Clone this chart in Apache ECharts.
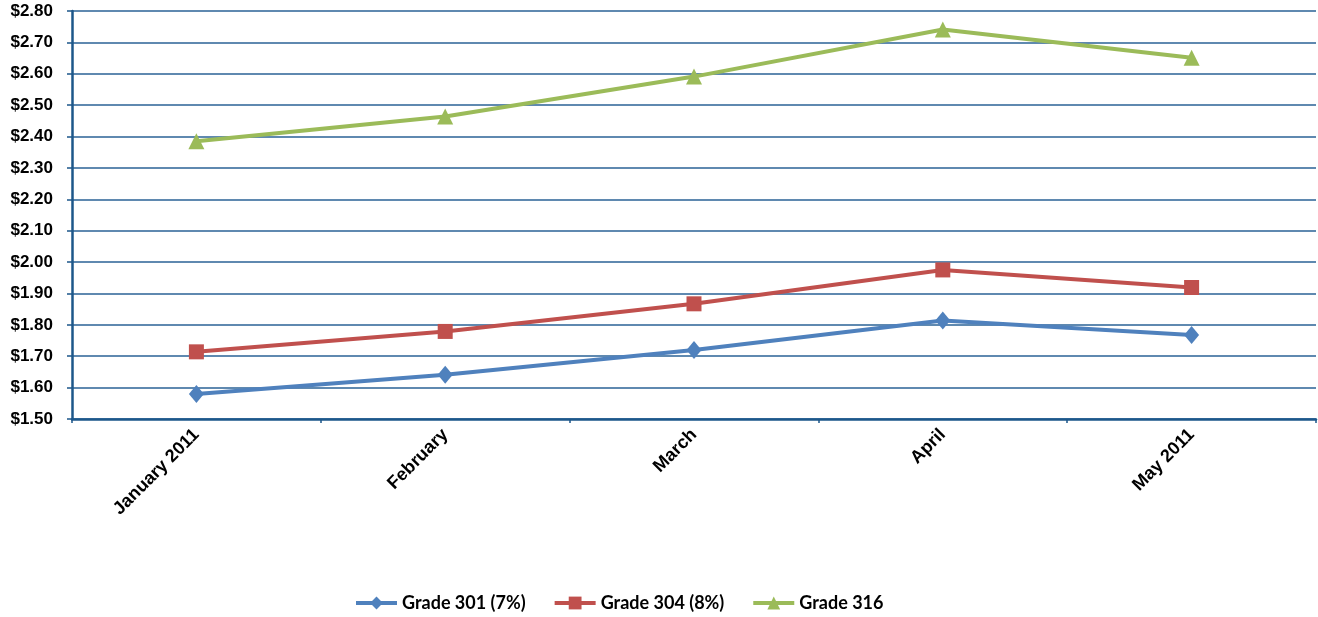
<!DOCTYPE html>
<html><head><meta charset="utf-8">
<script src="https://cdn.jsdelivr.net/npm/echarts@6/dist/echarts.min.js"></script>
<style>html,body{margin:0;padding:0;background:#fff}#c{width:1318px;height:617px}</style>
</head><body><div id="c"></div>
<script>
const categories = ['January 2011','February','March','April','May 2011'];
const grade301 = [1.58, 1.641, 1.72, 1.814, 1.768];
const grade304 = [1.714, 1.779, 1.867, 1.975, 1.919];
const grade316 = [2.385, 2.464, 2.591, 2.741, 2.651];
const seriesNames = ['Grade 301 (7%)','Grade 304 (8%)','Grade 316'];

const chart = echarts.init(document.getElementById('c'));
function mk(name, data, color, symbol, size){
  return {name, type:'line', data, symbol, symbolSize:size, showSymbol:true,
    lineStyle:{color, width:4}, itemStyle:{color}, emphasis:{disabled:true}, animation:false};
}
chart.setOption({
  animation:false,
  grid:{left:72, right:2, top:11, bottom:198, containLabel:false},
  legend:{top:594, left:354, padding:0, itemWidth:41, itemHeight:16, itemGap:27,
    lineStyle:{width:4},
    textStyle:{fontFamily:'Lato', fontWeight:'bold', fontSize:18, color:'#000'},
    data:seriesNames},
  xAxis:{type:'category', data:categories, boundaryGap:true,
    axisLine:{lineStyle:{color:'#1d578a', width:2.5}},
    axisTick:{show:true, length:4, lineStyle:{color:'#1d578a', width:1.5}},
    axisLabel:{rotate:45, margin:13, fontFamily:'Liberation Sans', fontWeight:'bold', fontSize:18, color:'#000'}},
  yAxis:{type:'value', min:1.5, max:2.8, interval:0.1,
    axisLine:{show:true, lineStyle:{color:'#1d578a', width:2.5}},
    axisTick:{show:true, length:5, lineStyle:{color:'#1d578a', width:1.5}},
    splitLine:{show:true, lineStyle:{color:'#2a6296', width:1.5}},
    axisLabel:{margin:19, fontFamily:'Liberation Sans', fontWeight:'bold', fontSize:17, color:'#000',
      formatter:v=>'$'+v.toFixed(2)}},
  series:[
    mk(seriesNames[0], grade301, '#4F81BD', 'diamond', [15,18]),
    mk(seriesNames[1], grade304, '#C0504D', 'rect', 15),
    mk(seriesNames[2], grade316, '#9BBB59', 'triangle', 16)
  ]
});
</script></body></html>
